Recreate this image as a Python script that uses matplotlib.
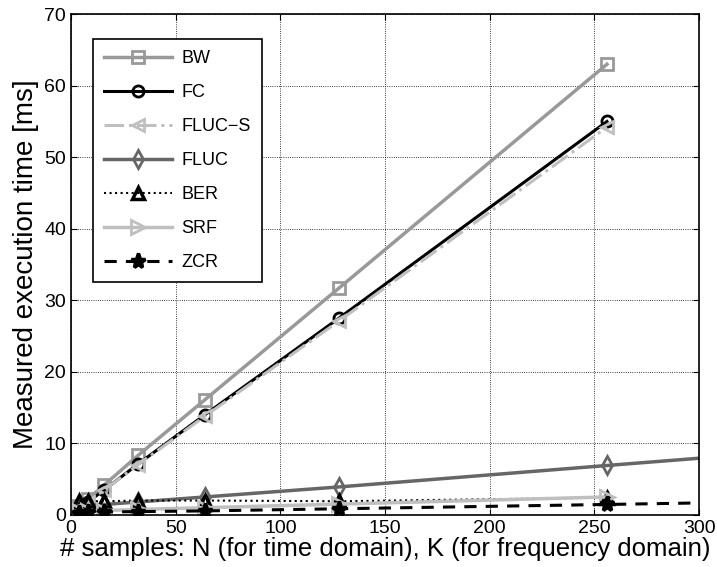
import numpy as np
import matplotlib
matplotlib.use('Agg')
from matplotlib import pyplot as plt

plt.rcParams['font.family'] = ['Liberation Sans', 'DejaVu Sans']

# sample counts
n_freq = [4, 8, 16, 32, 64, 128, 256]
n_time = [4, 8, 16, 32, 64, 128, 256, 512]

# measured execution time [ms]
bw = [1.2, 2.2, 4.2, 8.3, 16.1, 31.7, 63.0]
fc = [0.9, 1.8, 3.5, 7.1, 14.0, 27.5, 55.0]
fluc_s = [0.9, 1.8, 3.5, 7.0, 13.8, 27.1, 54.2]
fluc = [1.2, 1.3, 1.45, 1.8, 2.5, 3.9, 6.9, 12.8]
ber = [1.9, 1.9, 1.9, 2.0, 2.0, 1.9, 2.4]
srf = [0.5, 0.55, 0.6, 0.75, 1.0, 1.5, 2.5]
zcr = [0.3, 0.35, 0.4, 0.45, 0.55, 0.85, 1.45, 2.7]

fig = plt.figure(figsize=(7.17, 5.67), dpi=100)
ax = fig.add_axes([0.099, 0.092, 0.876, 0.883])

ax.plot(n_freq, bw, color='0.6', ls='-', lw=2.5, marker='s', mfc='none', mew=2, ms=8, label='BW')
ax.plot(n_freq, fc, color='black', ls='-', lw=2.2, marker='o', mfc='none', mew=2, ms=8, label='FC')
ax.plot(n_freq, fluc_s, color='0.75', ls='-.', lw=2.2, marker='<', mfc='none', mew=2, ms=9, label='FLUC\u2212S')
ax.plot(n_time, fluc, color='0.4', ls='-', lw=2.5, marker='d', mfc='none', mew=2, ms=9, label='FLUC')
ax.plot(n_freq, ber, color='black', ls=':', lw=1.5, marker='^', mfc='none', mew=2.5, ms=9, label='BER')
ax.plot(n_freq, srf, color='0.75', ls='-', lw=2.5, marker='>', mfc='none', mew=2, ms=10, label='SRF')
ax.plot(n_time, zcr, color='black', ls='--', lw=2.2, dashes=(4, 3), marker='*', mfc='black', mew=2.5, ms=11, label='ZCR')

ax.set_xlim(0, 300)
ax.set_ylim(0, 70)
ax.set_xticks(np.arange(0, 301, 50))
ax.set_yticks(np.arange(0, 71, 10))
ax.tick_params(direction='in', top=True, right=True, labelsize=14, length=4)
ax.grid(True, ls=':', color='black', lw=0.6)
for s in ax.spines.values():
    s.set_linewidth(1.2)

ax.set_xlabel('# samples: N (for time domain), K (for frequency domain)', fontsize=18.5, labelpad=0)
ax.set_ylabel('Measured execution time [ms]', fontsize=20, labelpad=4)

leg = ax.legend(loc='upper left', bbox_to_anchor=(0.035, 0.95), borderaxespad=0, fontsize=13,
                handlelength=3.8, handletextpad=0.5, fancybox=False, edgecolor='black',
                framealpha=1, borderpad=0.6, labelspacing=0.94)
leg.get_frame().set_linewidth(1.2)

fig.savefig('out.png', dpi=100)
